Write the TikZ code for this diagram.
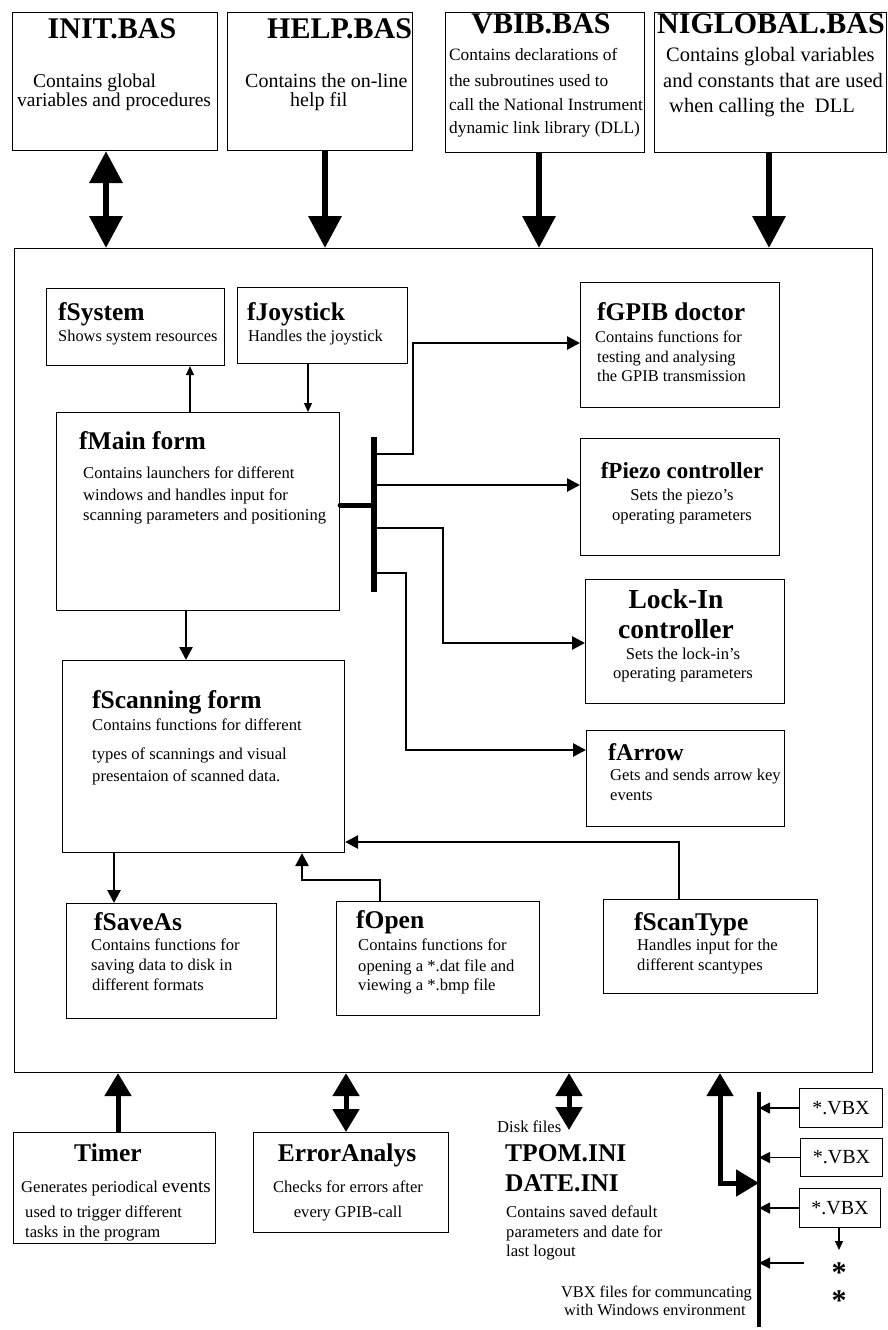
\documentclass[tikz,border=0pt]{standalone}
\usepackage{fontspec}
\setmainfont{Liberation Serif}
\usetikzlibrary{arrows.meta}
\newcommand{\fs}[1]{\fontsize{#1}{#1}\selectfont}
\tikzset{
  box/.style={draw, line width=1.1pt, inner sep=0pt, anchor=north west},
  txt/.style={inner sep=0pt, anchor=base west},
  ctxt/.style={inner sep=0pt, anchor=base},
  toptitle/.style={font={\fs{30}\bfseries}},
  ttl/.style={font={\fs{25.5}\bfseries}},
  body/.style={font={\fs{16.6}}},
  thinarr/.style={line width=1.2pt, -{Triangle[length=9pt,width=8pt]}},
  vbxarr/.style={line width=1.2pt, -{Triangle[length=11pt,width=11pt]}},
  medarr/.style={line width=2.7pt, -{Triangle[length=13pt,width=13pt]}},
  bigarr/.style={line width=6.5pt, -{Triangle[length=32pt,width=32pt]}},
  bigdbl/.style={line width=6.5pt, {Triangle[length=32pt,width=32pt]}-{Triangle[length=32pt,width=32pt]}},
  botarr/.style={line width=5pt, -{Triangle[length=23pt,width=26pt]}},
  botdbl/.style={line width=5pt, {Triangle[length=23pt,width=26pt]}-{Triangle[length=23pt,width=26pt]}},
}
\begin{document}
\begin{tikzpicture}[x=1pt,y=-1pt]
\useasboundingbox (0,0) rectangle (888,1330);

% ---------- boxes ----------
\node[box, minimum width=205pt, minimum height=138pt] (INIT) at (12,12) {};
\node[box, minimum width=185pt, minimum height=138pt] (HELP) at (227,12) {};
\node[box, minimum width=199pt, minimum height=140pt] (VBIB) at (445,12) {};
\node[box, minimum width=232pt, minimum height=140pt] (NIG) at (654,12) {};
\node[box, minimum width=858pt, minimum height=824pt] (frame) at (14,248) {};
\node[box, minimum width=178pt, minimum height=77pt] (fSys) at (46,288) {};
\node[box, minimum width=170pt, minimum height=76pt] (fJoy) at (237,287) {};
\node[box, minimum width=283pt, minimum height=198pt] (fMain) at (56,412) {};
\node[box, minimum width=199pt, minimum height=125pt] (fGPIB) at (580,282) {};
\node[box, minimum width=199pt, minimum height=117pt] (fPiezo) at (580,438) {};
\node[box, minimum width=199pt, minimum height=124pt] (fLock) at (585,579) {};
\node[box, minimum width=198pt, minimum height=96pt] (fArrow) at (586,730) {};
\node[box, minimum width=282pt, minimum height=192pt] (fScan) at (62,660) {};
\node[box, minimum width=210pt, minimum height=115pt] (fSave) at (66,903) {};
\node[box, minimum width=203pt, minimum height=114pt] (fOpen) at (336,901) {};
\node[box, minimum width=214pt, minimum height=94pt] (fScanType) at (603,899) {};
\node[box, minimum width=202pt, minimum height=111pt] (Timer) at (13,1132) {};
\node[box, minimum width=195pt, minimum height=100pt] (Err) at (253,1132) {};
\node[box, minimum width=83pt, minimum height=39pt, font=\fs{20}] (VBX1) at (799,1088) {*.VBX};
\node[box, minimum width=82pt, minimum height=38pt, font=\fs{20}] (VBX2) at (800,1138) {*.VBX};
\node[box, minimum width=81pt, minimum height=39pt, font=\fs{20}] (VBX3) at (799,1188) {*.VBX};

% ---------- texts ----------
\node[ctxt, toptitle] (tINIT) at (112,38) {INIT.BAS};
\node[txt, font=\fs{19.5}] (tINIT1) at (33,88) {Contains global};
\node[txt, font=\fs{19.5}] (tINIT2) at (17,106) {variables and procedures};

\node[txt, toptitle] (tHELP) at (267,38) {HELP.BAS};
\node[txt, font=\fs{20}] (tHELP1) at (245,88) {Contains the on-line};
\node[txt, font=\fs{20}] (tHELP2) at (290,106) {help fil};

\node[ctxt, toptitle] (tVBIB) at (541,34) {VBIB.BAS};
\node[txt, font=\fs{17.3}] (tVBIB1) at (449,61) {Contains declarations of};
\node[txt, font=\fs{17.3}] (tVBIB2) at (449,86) {the subroutines used to};
\node[txt, font=\fs{17.3}] (tVBIB3) at (449,110) {call the National Instrument};
\node[txt, font=\fs{17.3}] (tVBIB4) at (449,133) {dynamic link library (DLL)};

\node[txt, toptitle] (tNIG) at (657,34) {NIGLOBAL.BAS};
\node[txt, font=\fs{20.5}] (tNIG1) at (666,62) {Contains global variables};
\node[txt, font=\fs{20.5}] (tNIG2) at (663,88) {and constants that are used};
\node[txt, font=\fs{20.5}] (tNIG3) at (669,112) {when calling the\ \ DLL};

\node[txt, ttl] (tSys) at (58,320) {fSystem};
\node[txt, font=\fs{16.4}] (tSys1) at (58,341) {Shows system resources};
\node[txt, ttl] (tJoy) at (247,320) {fJoystick};
\node[txt, font=\fs{16.5}] (tJoy1) at (248,341) {Handles the joystick};

\node[txt, ttl] (tMain) at (79,449) {fMain form};
\node[txt, body] (tMain1) at (83,478) {Contains launchers for different};
\node[txt, body] (tMain2) at (83,500) {windows and handles input for};
\node[txt, body] (tMain3) at (83,520) {scanning parameters and positioning};

\node[txt, ttl] (tGPIB) at (597,320) {fGPIB doctor};
\node[txt, font=\fs{16.4}] (tGPIB1) at (595,342) {Contains functions for};
\node[txt, font=\fs{16.4}] (tGPIB2) at (597,362) {testing and analysing};
\node[txt, font=\fs{16.4}] (tGPIB3) at (597,381) {the GPIB transmission};

\node[ctxt, font={\fs{23}\bfseries}] (tPiezo) at (682,478) {fPiezo controller};
\node[ctxt, body] (tPiezo1) at (682,500) {Sets the piezo’s};
\node[ctxt, body] (tPiezo2) at (682,520) {operating parameters};

\node[ctxt, font={\fs{27.5}\bfseries}] (tLock) at (676,608) {Lock-In};
\node[ctxt, font={\fs{27.5}\bfseries}] (tLock2) at (676,638) {controller};
\node[ctxt, body] (tLock3) at (683,659) {Sets the lock-in’s};
\node[ctxt, body] (tLock4) at (683,678) {operating parameters};

\node[txt, font={\fs{24}\bfseries}] (tArrow) at (608,760) {fArrow};
\node[txt, body] (tArrow1) at (610,780) {Gets and sends arrow key};
\node[txt, body] (tArrow2) at (610,800) {events};

\node[txt, ttl] (tScan) at (92,708) {fScanning form};
\node[txt, body] (tScan1) at (92,730) {Contains functions for different};
\node[txt, body] (tScan2) at (92,759) {types of scannings and visual};
\node[txt, body] (tScan3) at (92,781) {presentaion of scanned data.};

\node[txt, ttl] (tSave) at (94,930) {fSaveAs};
\node[txt, body] (tSave1) at (91,950) {Contains functions for};
\node[txt, body] (tSave2) at (91,970) {saving data to disk in};
\node[txt, body] (tSave3) at (92,990) {different formats};

\node[txt, ttl] (tOpen) at (356,928) {fOpen};
\node[txt, body] (tOpen1) at (358,950) {Contains functions for};
\node[txt, body] (tOpen2) at (358,971) {opening a *.dat file and};
\node[txt, body] (tOpen3) at (358,990) {viewing a *.bmp file};

\node[txt, ttl] (tST) at (634,930) {fScanType};
\node[txt, body] (tST1) at (637,950) {Handles input for the};
\node[txt, body] (tST2) at (637,970) {different scantypes};

\node[ctxt, ttl] (tTimer) at (108,1161) {Timer};
\node[txt, body] (tTimer1) at (21,1192) {Generates periodical {\fs{19}events}};
\node[txt, body] (tTimer2) at (25,1217) {used to trigger different};
\node[txt, body] (tTimer3) at (25,1237) {tasks in the program};

\node[ctxt, ttl] (tErr) at (347,1161) {ErrorAnalys};
\node[ctxt, body] (tErr1) at (348,1192) {Checks for errors after};
\node[ctxt, body] (tErr2) at (348,1217) {every GPIB-call};

\node[txt, body] (tDisk) at (497,1132) {Disk files};
\node[txt, ttl] (tTPOM) at (505,1161) {TPOM.INI};
\node[txt, ttl] (tDATE) at (505,1191) {DATE.INI};
\node[txt, body] (tDisk1) at (506,1217) {Contains saved default};
\node[txt, body] (tDisk2) at (506,1237) {parameters and date for};
\node[txt, body] (tDisk3) at (506,1256) {last logout};

\node[ctxt, font={\fs{30}\bfseries}] (ast1) at (839,1282) {*};
\node[ctxt, font={\fs{30}\bfseries}] (ast2) at (839,1310) {*};
\node[txt, font=\fs{16.3}] (tVBXa) at (561,1297) {VBX files for communcating};
\node[txt, font=\fs{16.3}] (tVBXb) at (564,1315) {with Windows environment};

% ---------- connectors ----------
\draw[bigdbl] (INIT.south -| 106,0) -- (frame.north -| 106,0);
\draw[bigarr] (HELP.south -| 325,0) -- (frame.north -| 325,0);
\draw[bigarr] (VBIB.south -| 539,0) -- (frame.north -| 539,0);
\draw[bigarr] (NIG.south -| 769,0) -- (frame.north -| 769,0);

\draw[thinarr] (fMain.north -| 190,0) -- (fSys.south -| 190,0);
\draw[thinarr] (fJoy.south -| 308,0) -- (fMain.north -| 308,0);

\coordinate (busT) at (374,437);
\coordinate (busB) at (374,592);
\draw[line width=5.5pt] (busT) -- (busB);
\draw[line width=5pt, line cap=round] (fMain.east |- 0,505) -- (busT |- 0,505);
\coordinate (b1) at (374,454);
\coordinate (b2) at (374,485);
\coordinate (b3) at (374,528);
\coordinate (b4) at (374,573);
\draw[medarr] (b1) -| (413,343) -- (fGPIB.west |- 0,343);
\draw[medarr] (b2) -- (fPiezo.west |- b2);
\draw[medarr] (b3) -| (443,643) -- (fLock.west |- 0,643);
\draw[medarr] (b4) -| (406,750) -- (fArrow.west |- 0,750);

\draw[medarr, line width=2.4pt] (fMain.south -| 186,0) -- (fScan.north -| 186,0);
\draw[medarr] (fScanType.north -| 679,0) |- (fScan.east |- 0,842);
\draw[medarr] (fOpen.north -| 380,0) |- (302,880) -- (fScan.south -| 302,0);
\draw[medarr] (fScan.south -| 114,0) -- (fSave.north -| 114,0);

\draw[botarr] (Timer.north -| 118,0) -- (frame.south -| 118,0);
\draw[botdbl] (frame.south -| 346,0) -- (Err.north -| 346,0);
\coordinate (diskEnd) at (569,1130);
\draw[botdbl] (frame.south -| 569,0) -- (diskEnd);

\coordinate (vbT) at (759,1092);
\coordinate (vbB) at (759,1327);
\draw[line width=3.5pt] (vbT) -- (vbB);
\draw[botdbl] (frame.south -| 720,0) |- (vbT |- 0,1183);
\draw[vbxarr] (VBX1.west) -- (vbT |- VBX1.west);
\draw[vbxarr] (VBX2.west) -- (vbT |- VBX2.west);
\draw[vbxarr] (VBX3.west) -- (vbT |- VBX3.west);
\coordinate (v4) at (804,1263);
\draw[vbxarr] (v4) -- (vbT |- v4);
\coordinate (astTop) at (839,1250);
\draw[thinarr] (VBX3.south -| 839,0) -- (astTop);
\end{tikzpicture}
\end{document}
